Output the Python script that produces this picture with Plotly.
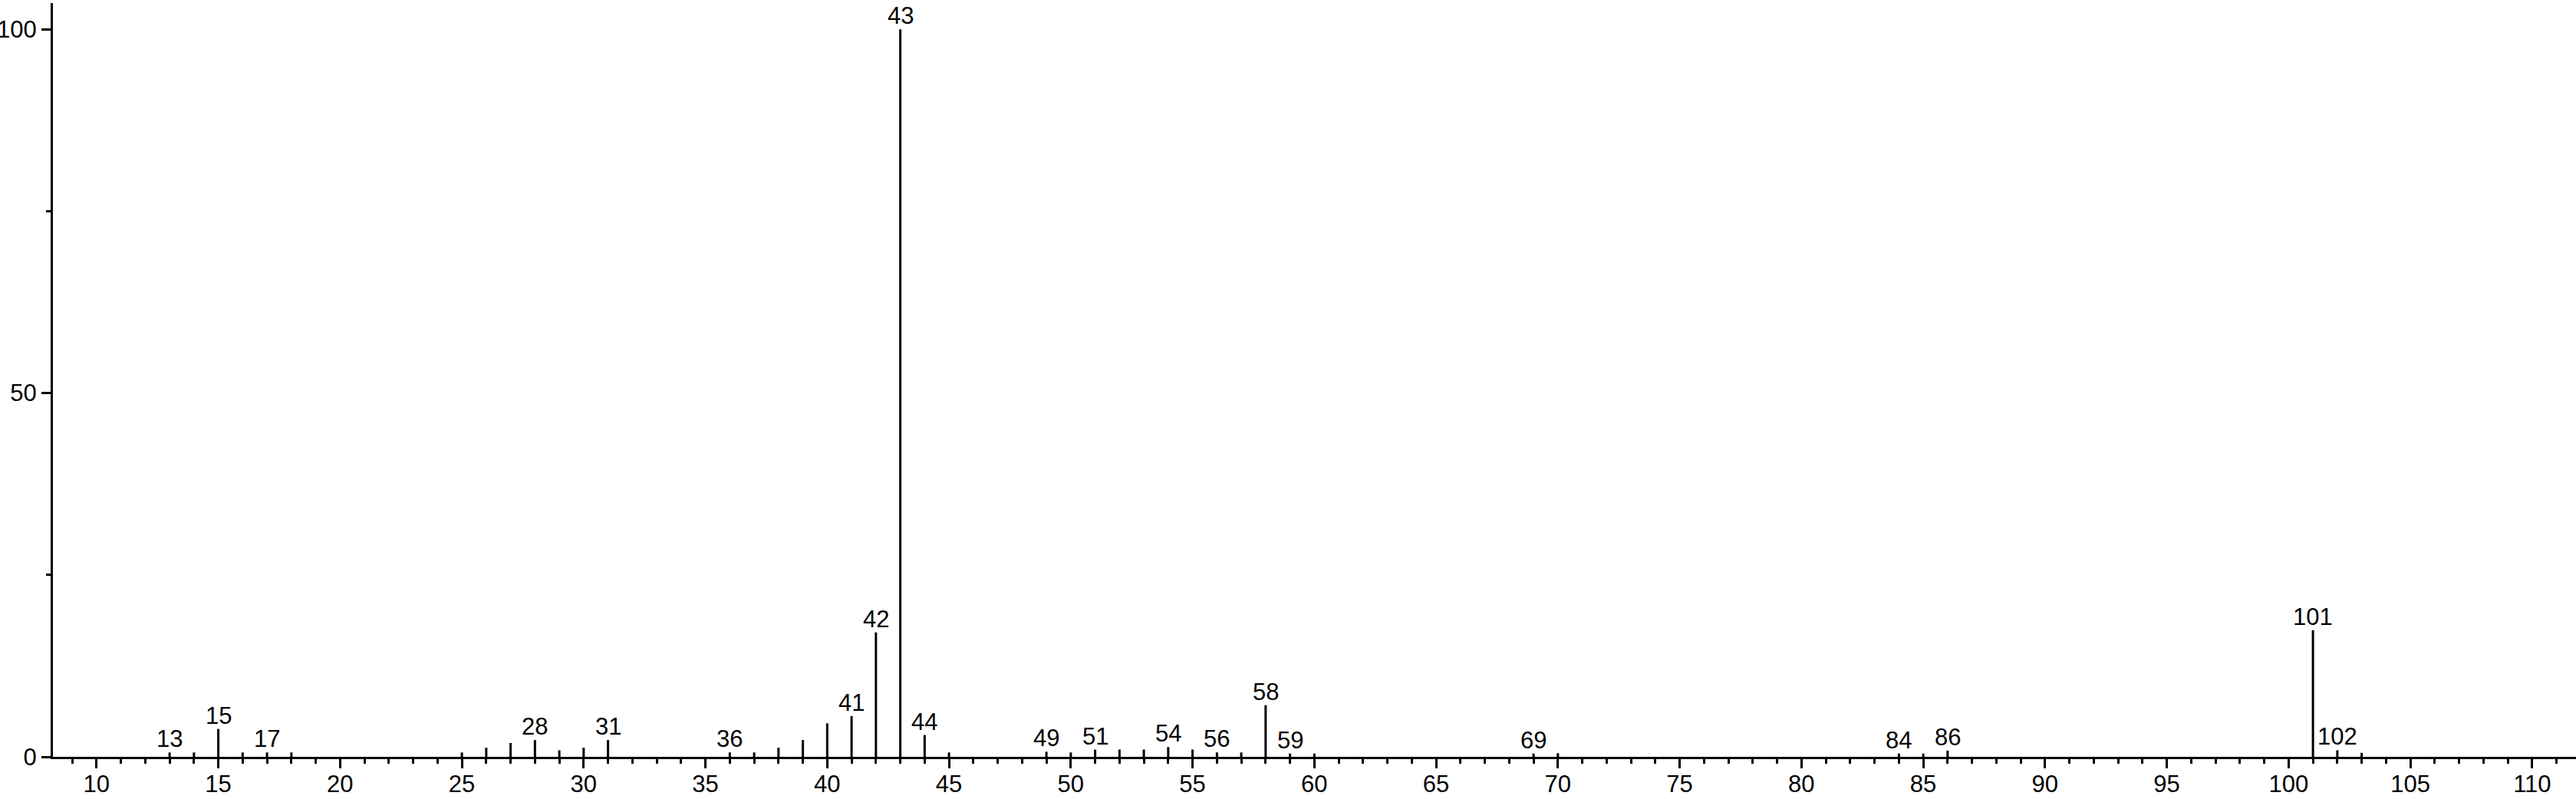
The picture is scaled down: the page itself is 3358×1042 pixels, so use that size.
import plotly.graph_objects as go

# m/z values and relative intensities (%)
mz = [13, 14, 15, 16, 17, 18, 25, 26, 27, 28, 29, 30, 31, 36, 37, 38, 39, 40, 41, 42,
      43, 44, 45, 49, 50, 51, 52, 53, 54, 55, 56, 57, 58, 59, 60, 69, 70, 84, 85, 86,
      101, 102, 103]
intensity = [0.6, 0.6, 3.83, 0.6, 0.6, 0.6, 0.6, 1.25, 1.9, 2.3, 0.9, 1.25, 2.3, 0.6, 0.6, 1.25, 2.3, 4.6, 5.6, 17.1,
             100, 3.0, 0.6, 0.7, 0.6, 1.0, 1.0, 1.0, 1.34, 1.0, 0.6, 0.6, 7.1, 0.45, 0.45, 0.45, 0.5, 0.45, 0.45, 0.85,
             17.4, 0.9, 0.55]
labeled_mz = [13, 15, 17, 28, 31, 36, 41, 42, 43, 44, 49, 51, 54, 56, 58, 59, 69, 84, 86, 101, 102]

y_ticks = [0, 50, 100]
y_minor = [25, 75]
x_dtick = 5

FONT = "Liberation Sans, Arial, Helvetica, sans-serif"
FS = 31

xs, ys = [], []
for m, v in zip(mz, intensity):
    xs += [m, m, None]
    ys += [0, v, None]

fig = go.Figure()
fig.add_trace(go.Scatter(x=xs, y=ys, mode="lines",
                         line=dict(color="black", width=3),
                         hoverinfo="skip", showlegend=False, cliponaxis=False))

lookup = dict(zip(mz, intensity))
for m in labeled_mz:
    fig.add_annotation(x=m, y=lookup[m], text=str(m), showarrow=False,
                       xanchor="center", yanchor="bottom", yshift=-2,
                       font=dict(family=FONT, size=FS, color="black"))

fig.update_layout(
    width=3358, height=1042,
    margin=dict(l=69, r=0, t=4, b=55, autoexpand=False),
    paper_bgcolor="white", plot_bgcolor="white",
    showlegend=False,
    font=dict(family=FONT, size=FS, color="black"),
)
fig.update_xaxes(
    range=[8.21, 111.8], tick0=0, dtick=x_dtick,
    automargin=False,
    showgrid=False, zeroline=False,
    showline=True, linecolor="black", linewidth=3,
    ticks="outside", ticklen=12, tickwidth=3, tickcolor="black",
    minor=dict(dtick=1, ticks="outside", ticklen=6, tickwidth=3, tickcolor="black", showgrid=False),
    tickfont=dict(family=FONT, size=FS, color="black"),
    ticklabelstandoff=-6,
)
fig.update_yaxes(
    range=[0, 103.6], tickvals=y_ticks,
    automargin=False,
    showgrid=False, zeroline=False,
    showline=True, linecolor="black", linewidth=3,
    ticks="outside", ticklen=12, tickwidth=3, tickcolor="black",
    minor=dict(tickvals=y_minor, ticks="outside", ticklen=6, tickwidth=3, tickcolor="black", showgrid=False),
    tickfont=dict(family=FONT, size=FS, color="black"),
    ticklabelstandoff=0,
)

fig.write_html(
    "out.html",
    config={"displayModeBar": False},
    post_script="document.body.style.margin='0';document.body.style.overflow='hidden';",
)
